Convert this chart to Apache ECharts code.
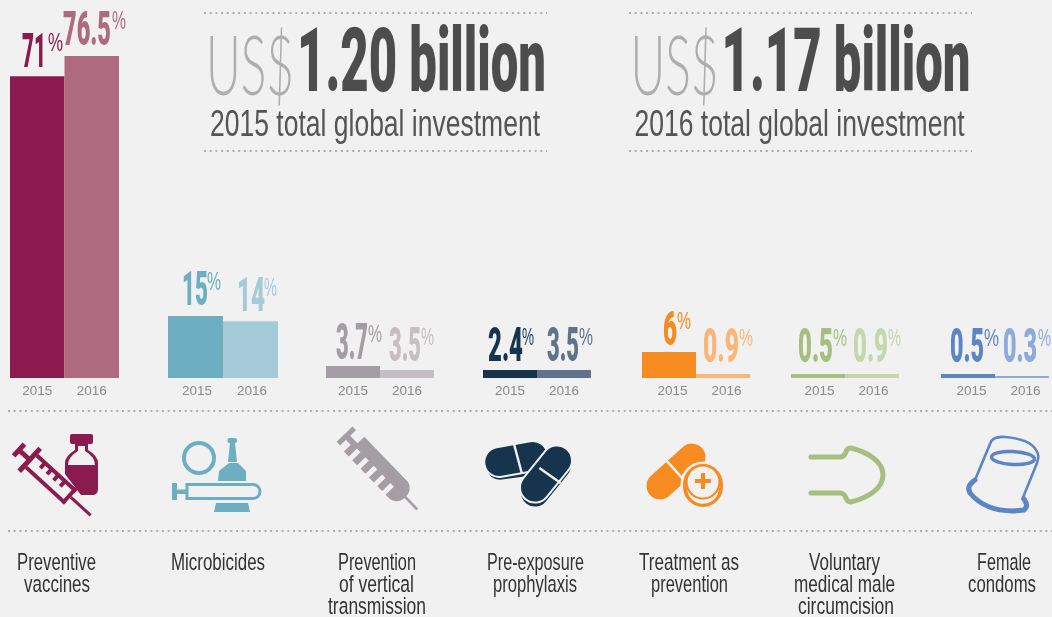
<!DOCTYPE html>
<html>
<head>
<meta charset="utf-8">
<style>
  html, body { margin: 0; padding: 0; background: #f1f1f1; }
  #canvas { width: 1052px; height: 617px; }
</style>
<script src="https://cdn.jsdelivr.net/npm/echarts@6/dist/echarts.min.js"></script>
</head>
<body>
<div id="canvas"></div>
<script>
const years = ["2015", "2016"];
const labels2015 = ["71", "15", "3.7", "2.4", "6", "0.5", "0.5"];
const labels2016 = ["76.5", "14", "3.5", "3.5", "0.9", "0.9", "0.3"];
// bar lengths as drawn in the picture (the small bars are not to scale with their labels)
const bars2015 = [71.7, 14.7, 2.85, 1.9, 6.2, 0.95, 0.95];
const bars2016 = [76.5, 13.5, 1.9, 1.9, 0.95, 0.95, 0.5];
const categoryLines = [
  ["Preventive", "vaccines"],
  ["Microbicides"],
  ["Prevention", "of vertical", "transmission"],
  ["Pre-exposure", "prophylaxis"],
  ["Treatment as", "prevention"],
  ["Voluntary", "medical male", "circumcision"],
  ["Female", "condoms"]
];
const totals = [
  { amount: "1.20 billion", caption: "2015 total global investment" },
  { amount: "1.17 billion", caption: "2016 total global investment" }
];

const colors2015 = ["#8b1a4f", "#6eaec2", "#a49da3", "#17344f", "#f68b1f", "#a6bf80", "#5b85c4"];
const colors2016 = ["#ae6a7e", "#a6cbd8", "#c5bfc3", "#5f738e", "#fdb577", "#c6d7ad", "#8ea9db"];

// layout, in pixels
const BG = "#f1f1f1";
const SANS = '"Liberation Sans"';
const HEAVY = "Roboto";
const groupLeft = [10, 168, 326, 483, 642, 791, 941];
const groupWidth = [109, 110, 108, 108, 108, 108, 108];
const yearShift = [0, 3, 0, 0, 7, 3, 7];
// x0, x1, top, bottom of number then x0, x1, top, bottom of the % sign
const box2015 = [
  [22, 46, 33, 69, 48, 63, 33, 51], [182, 208, 271, 307, 207, 221, 272, 290],
  [336, 368, 324, 361, 368, 382, 325, 342], [488, 523, 327, 363, 522, 534, 328, 345],
  [663, 677, 311, 347, 677, 691, 312, 329], [798, 833, 328, 363, 833, 847, 329, 346],
  [950, 984, 328, 363, 984, 999, 329, 346]
];
const box2016 = [
  [63, 111, 11, 47, 112, 126, 11, 29], [237, 265, 277, 313, 264, 277, 278, 296],
  [389, 421, 327, 363, 421, 434, 328, 345], [547, 579, 327, 363, 579, 593, 328, 345],
  [703, 739, 328, 363, 739, 753, 329, 346], [853, 888, 328, 363, 888, 901, 329, 346],
  [1003, 1037, 328, 363, 1038, 1051, 329, 346]
];
const categoryBox = [
  [[17, 96], [24, 90]], [[171, 265]], [[338, 416], [339, 414], [328, 426]], [[487, 584], [493, 577]],
  [[639, 739], [651, 728]], [[809, 880], [794, 895], [798, 894]], [[977, 1031], [968, 1036]]
];
const lineBottoms = [570, 592, 614];
const headerX = [0, 424.5];

const measure = document.createElement("canvas").getContext("2d");
// a text squeezed to span x0..x1, with caps between top and bottom
function fitText (text, x0, x1, top, bottom, weight, family, fill, capRatio, lift) {
  const size = (bottom - top) / (capRatio || 0.7);
  const font = weight + " " + size + "px " + family;
  measure.font = font;
  return {
    type: "text",
    x: x0,
    y: (top + bottom) / 2 + (bottom - top) * (lift || 0.1),
    scaleX: (x1 - x0) / measure.measureText(text).width,
    silent: true,
    style: { text: text, font: font, fill: fill, align: "left", verticalAlign: "middle" }
  };
}
function dotted (x1, x2, y) {
  return {
    type: "line",
    silent: true,
    shape: { x1: x1, y1: y, x2: x2, y2: y },
    style: { stroke: "#adadad", lineWidth: 2, lineDash: [2, 3.7] }
  };
}

const texts = [];
[[204, 547, 13], [204, 547, 151], [629, 972, 13], [629, 972, 151], [8, 1052, 411], [8, 1052, 531]].forEach(d => {
  texts.push(dotted(d[0], d[1], d[2]));
});
totals.forEach((t, i) => {
  const dx = headerX[i];
  texts.push(fitText("US$", 206 + dx, 294 + dx, 33, 92, "300", "Lato", "#aeaeb0", 0.72));
  texts.push(fitText(t.amount, 297 + dx, 546 + dx, 28, 94, "900", HEAVY, "#4d4d4d", 0.74, 0.12));
  texts.push(fitText(t.caption, 210 + dx, 540 + dx, 110, 136, "400", SANS, "#555555", 0.7));
});
function pushValue (label, b, color) {
  texts.push(fitText(label, b[0], b[1], b[2], b[3], "900", HEAVY, color, 0.74, 0.12));
  texts.push(fitText("%", b[4], b[5], b[6], b[7], "400", SANS, color, 0.7));
}
labels2015.forEach((label, i) => pushValue(label, box2015[i], colors2015[i]));
labels2016.forEach((label, i) => pushValue(label, box2016[i], colors2016[i]));
categoryLines.forEach((lines, i) => {
  lines.forEach((line, j) => {
    const b = categoryBox[i][j];
    texts.push(fitText(line, b[0], b[1], lineBottoms[j] - 17, lineBottoms[j], "400", SANS, "#333333", 0.7));
  });
});

// icons are plain decoration, drawn at their place in the picture
function deg (d) { return -d * Math.PI / 180; }
function path (d, style) {
  const r = echarts.graphic.makePath(d, {}).getBoundingRect();
  return {
    type: "path",
    shape: { pathData: d, x: r.x, y: r.y, width: r.width, height: r.height, layout: "cover" },
    style: style
  };
}
function rect (x, y, w, h, fill, r) {
  return { type: "rect", shape: { x: x, y: y, width: w, height: h, r: r || 0 }, style: { fill: fill } };
}
function pill (cx, cy, l, w, angle, fill) {
  return {
    type: "rect",
    x: cx, y: cy, rotation: deg(angle),
    shape: { x: -l / 2, y: -w / 2, width: l, height: w, r: w / 2 },
    style: { fill: fill, stroke: BG, lineWidth: 2 }
  };
}
function bgLine (cx, cy, len, angle) {
  return { type: "rect", x: cx, y: cy, rotation: deg(angle), shape: { x: -1.2, y: -len / 2, width: 2.4, height: len }, style: { fill: BG } };
}

function vaccineIcon () {
  const c = colors2015[0];
  const kids = [
    rect(-2.5, -8, 5, 16, c), rect(0, -2.5, 13, 5, c), rect(12, -15.5, 5, 31, c),
    rect(17, -10, 53, 4, c), rect(17, 6, 53, 4, c), rect(66, -10, 4, 20, c),
    rect(70, -1.5, 27, 3, c)
  ];
  [26, 35, 44, 53].forEach(x => kids.push(rect(x, -7, 4, 6, c)));
  return [
    path("M75,444 L75,450 Q65,456 65,463 L65,474 L81,495 L92,495 Q98,495 98,489 L98,463 Q98,456 88,450 L88,444 Z", { fill: c }),
    rect(70, 434, 23, 10, c, 2),
    path("M78,446 L78,451 Q68,457 68,465 L95,465 Q95,457 85,451 L85,446 Z", { fill: BG }),
    { type: "group", x: 19, y: 450, rotation: deg(42.4), children: kids }
  ];
}
function microbicideIcon () {
  const c = colors2015[1];
  return [
    { type: "circle", shape: { cx: 199, cy: 458, r: 15 }, style: { fill: "none", stroke: c, lineWidth: 4 } },
    rect(227.5, 438, 9.5, 5, c, 2),
    path("M230,443 L235,443 L237,462 L228,462 Z", { fill: c }),
    path("M229,463 L238,463 L246,471 L246,481 L218,481 L219,471 Z", { fill: c }),
    path("M187,484.5 L253,484.5 A7,7 0 0 1 253,498.5 L187,498.5 Z", { fill: "none", stroke: c, lineWidth: 3 }),
    rect(172, 483, 5, 17, c), rect(177, 489.5, 10, 4.5, c),
    path("M216,503 L248,503 L250,512 L214,512 Z", { fill: c })
  ];
}
function verticalIcon () {
  const c = colors2015[2];
  let body = "M13,-12.5 L76,-12.5 Q85,-10 85,0 Q85,10 76,12.5 ";
  // teeth along the lower side of the barrel
  [66, 54, 42, 30, 18].forEach(x => {
    body += "L" + (x + 3.5) + ",12.5 L" + (x + 3.5) + ",1 L" + (x - 1.5) + ",1 L" + (x - 1.5) + ",12.5 ";
    body += "L" + (x - 8.5) + ",12.5 L" + (x - 8.5) + ",1 ";
  });
  body = body.replace(/ $/, "") + " L13,1 Z";
  return [{
    type: "group", x: 346.3, y: 436, rotation: deg(46),
    children: [
      rect(-2.5, -11, 5, 22, c), rect(0, -3, 14, 6, c),
      path(body, { fill: c }),
      rect(84, -1.3, 18, 2.6, c)
    ]
  }];
}
function prepIcon () {
  const c = colors2015[3];
  return [
    pill(516, 463.5, 62, 30, -8, c),
    pill(516, 459, 64, 30, -10, c),
    bgLine(518, 459, 30, -15),
    pill(546, 479, 65, 30, -51, c),
    pill(546, 474, 65, 30, -51, c),
    bgLine(550, 475.5, 26, -55)
  ];
}
function treatmentIcon () {
  const c = colors2015[4];
  return [
    pill(676, 471.5, 72, 29, -42, c),
    bgLine(674, 469, 32, -42),
    { type: "rect", shape: { x: 684.5, y: 465.5, width: 37, height: 40, r: 18.5 }, style: { fill: BG, stroke: BG, lineWidth: 8 } },
    { type: "rect", shape: { x: 684.5, y: 465.5, width: 37, height: 40, r: 18.5 }, style: { fill: BG, stroke: c, lineWidth: 2.8 } },
    path("M686,488 A17,17 0 0 0 720,488", { fill: "none", stroke: c, lineWidth: 2.2 }),
    { type: "circle", shape: { cx: 703, cy: 482, r: 16.5 }, style: { fill: BG, stroke: c, lineWidth: 2.2 } },
    rect(695, 479, 16, 4, c), rect(701, 473, 4, 16, c)
  ];
}
function circumcisionIcon () {
  const c = colors2015[5];
  return [path("M811,457 L840,457 Q844,457 846,452 Q847,448 851,448 C867,452 883,461 883,475 C883,489 867,498 851,502 Q847,502 846,498 Q844,493 840,493 L811,493", {
    fill: "none", stroke: c, lineWidth: 5, lineCap: "round", lineJoin: "round"
  })];
}
function condomIcon () {
  const c = colors2015[6];
  return [
    { type: "ellipse", x: 1013, y: 458, rotation: deg(3), shape: { cx: 0, cy: 0, rx: 21.5, ry: 6.5 }, style: { fill: "none", stroke: c, lineWidth: 3.5 } },
    path("M975,480 L990,444 Q992,436 1005,437 Q1030,439 1036,450 Q1040,455 1037,463 L1022,500", { fill: "none", stroke: c, lineWidth: 2.6 }),
    path("M975,480 Q966,486 970,493 Q985,511 1013,511 L1024,510 Q1029,506 1024,499", { fill: "none", stroke: c, lineWidth: 5, lineCap: "round" })
  ];
}

const grids = [];
const xAxes = [];
const yAxes = [];
const series = [];
groupLeft.forEach((left, i) => {
  grids.push({ left: left, width: groupWidth[i], top: 41.2, height: 336.8 });
  xAxes.push({
    type: "category",
    gridIndex: i,
    data: years,
    axisLine: { show: false },
    axisTick: { show: false },
    axisLabel: {
      interval: 0, margin: 6, color: "#8a8a8a", fontSize: 13.5, fontFamily: SANS,
      padding: [0, 0, 0, yearShift[i]]
    }
  });
  yAxes.push({ type: "value", gridIndex: i, min: 0, max: 80, show: false });
  series.push({
    type: "bar",
    xAxisIndex: i,
    yAxisIndex: i,
    barWidth: "100%",
    silent: true,
    data: [
      { value: bars2015[i], itemStyle: { color: colors2015[i] } },
      { value: bars2016[i], itemStyle: { color: colors2016[i] } }
    ]
  });
});
series.push({
  type: "custom",
  coordinateSystem: "none",
  silent: true,
  data: [0],
  renderItem: function () {
    return {
      type: "group",
      children: [].concat(vaccineIcon(), microbicideIcon(), verticalIcon(), prepIcon(),
        treatmentIcon(), circumcisionIcon(), condomIcon())
    };
  }
});

const myChart = window.echarts.init(document.querySelector("#canvas"));
myChart.setOption({
  backgroundColor: BG,
  animation: false,
  grid: grids,
  xAxis: xAxes,
  yAxis: yAxes,
  series: series,
  graphic: { elements: texts }
});
</script>
</body>
</html>
